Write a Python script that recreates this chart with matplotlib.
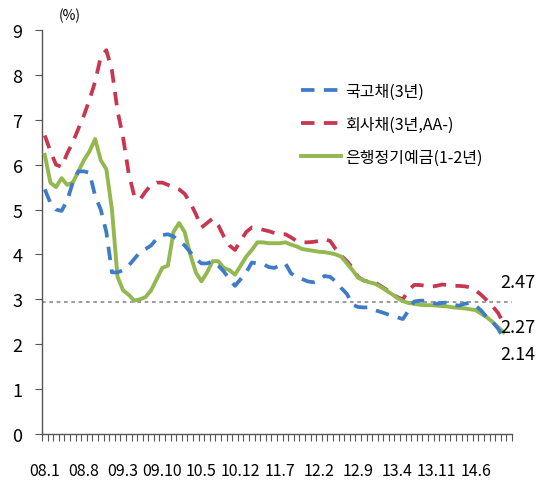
import numpy as np
import matplotlib
matplotlib.use("Agg")
import matplotlib.pyplot as plt

# monthly series, 08.1 ~ 14.11 (%)
ktb_3y = [5.45, 5.15, 5.0, 4.97, 5.2, 5.6, 5.85, 5.85, 5.82, 5.3,
          5.0, 4.5, 3.6, 3.6, 3.65, 3.75, 3.9, 4.05, 4.12, 4.2,
          4.35, 4.43, 4.45, 4.4, 4.3, 4.2, 4.05, 3.9, 3.8, 3.8,
          3.85, 3.75, 3.62, 3.45, 3.3, 3.45, 3.6, 3.82, 3.8, 3.79,
          3.72, 3.7, 3.75, 3.8, 3.58, 3.5, 3.45, 3.4, 3.38, 3.42,
          3.52, 3.5, 3.4, 3.25, 3.12, 2.88, 2.83, 2.82, 2.82, 2.76,
          2.72, 2.68, 2.63, 2.6, 2.56, 2.75, 2.95, 2.97, 2.97, 2.94,
          2.9, 2.92, 2.93, 2.88, 2.86, 2.9, 2.92, 2.86, 2.75, 2.6,
          2.5, 2.35, 2.14]
corp_3y = [6.65, 6.3, 6.0, 5.95, 6.25, 6.5, 6.8, 7.1, 7.45, 7.85,
           8.4, 8.55, 8.1, 7.2, 6.6, 5.8, 5.3, 5.22, 5.4, 5.55,
           5.6, 5.6, 5.55, 5.5, 5.45, 5.35, 5.15, 4.9, 4.6, 4.7,
           4.8, 4.65, 4.4, 4.2, 4.1, 4.3, 4.5, 4.6, 4.58, 4.55,
           4.52, 4.48, 4.45, 4.45, 4.38, 4.3, 4.27, 4.27, 4.28, 4.3,
           4.34, 4.3, 4.12, 3.97, 3.85, 3.7, 3.5, 3.42, 3.4, 3.38,
           3.3, 3.22, 3.13, 3.05, 3.0, 3.2, 3.32, 3.32, 3.3, 3.28,
           3.3, 3.33, 3.32, 3.3, 3.3, 3.29, 3.27, 3.2, 3.1, 2.98,
           2.85, 2.7, 2.47]
deposit = [6.22, 5.6, 5.5, 5.7, 5.55, 5.6, 5.85, 6.1, 6.3, 6.57,
           6.1, 5.9, 5.0, 3.5, 3.2, 3.1, 2.97, 3.0, 3.05, 3.2,
           3.45, 3.7, 3.75, 4.5, 4.7, 4.5, 4.0, 3.6, 3.4, 3.6,
           3.85, 3.85, 3.7, 3.65, 3.55, 3.75, 3.95, 4.1, 4.27, 4.27,
           4.25, 4.25, 4.25, 4.27, 4.22, 4.18, 4.12, 4.1, 4.08, 4.06,
           4.05, 4.03, 4.0, 3.95, 3.8, 3.65, 3.48, 3.42, 3.38, 3.35,
           3.28, 3.2, 3.12, 3.03, 2.96, 2.92, 2.9, 2.88, 2.87, 2.87,
           2.86, 2.85, 2.84, 2.82, 2.81, 2.8, 2.78, 2.76, 2.68, 2.6,
           2.5, 2.38, 2.27]

tick_labels = ["08.1", "08.8", "09.3", "09.10", "10.5", "10.12",
               "11.7", "12.2", "12.9", "13.4", "13.11", "14.6"]
n_cats = 84
ref_level = 2.95
end_labels = ["2.47", "2.27", "2.14"]

plt.rcParams['font.family'] = ['Noto Sans CJK KR', 'DejaVu Sans']

fig = plt.figure(figsize=(5.37, 4.81), dpi=100)
ax = fig.add_axes([0.0782, 0.0956, 0.8752, 0.84])

x = np.arange(len(deposit)) + 0.5

ax.axhline(ref_level, color='#8a8a8a', lw=1.2, ls=(0, (2.2, 2.2)), zorder=1)

ax.plot(x, corp_3y, color='#c8364f', lw=2.7, dashes=(3.6, 2.5), label='회사채(3년,AA-)', zorder=2)
ax.plot(x, deposit, color='#93b84f', lw=2.8, label='은행정기예금(1-2년)', zorder=3)
ax.plot(x, ktb_3y, color='#3e7bc8', lw=2.7, dashes=(3.6, 2.5), label='국고채(3년)', zorder=4)

ax.set_xlim(0, n_cats)
ax.set_ylim(0, 9)
ax.set_yticks(range(10))

ax.set_xticks(np.arange(0, n_cats, 7) + 0.5)
ax.set_xticklabels(tick_labels)
ax.set_xticks(np.arange(0, n_cats + 1), minor=True)
ax.tick_params(axis='x', which='major', length=0, pad=20, labelsize=11.5)
ax.tick_params(axis='x', which='minor', length=5, width=0.8, color='#555555', direction='out')
ax.tick_params(axis='y', length=5, width=0.8, color='#555555', direction='out', pad=9, labelsize=13)

for side in ['top', 'right']:
    ax.spines[side].set_visible(False)
for side in ['left', 'bottom']:
    ax.spines[side].set_color('#555555')
    ax.spines[side].set_linewidth(1.0)

ax.text(0.035, 1.02, '(%)', transform=ax.transAxes, fontsize=10, ha='left', va='bottom')

# end value labels
for lab, yv in zip(end_labels, [3.39, 2.38, 1.78]):
    ax.text(82.0, yv, lab, fontsize=13, ha='left', va='center', clip_on=False)

h, l = ax.get_legend_handles_labels()
order = [2, 0, 1]
ax.legend([h[i] for i in order], [l[i] for i in order], loc='upper left',
          bbox_to_anchor=(0.52, 0.905), frameon=False, fontsize=11.5,
          handlelength=2.5, handletextpad=0.3, labelspacing=1.0)

fig.savefig('out.png', dpi=100)
